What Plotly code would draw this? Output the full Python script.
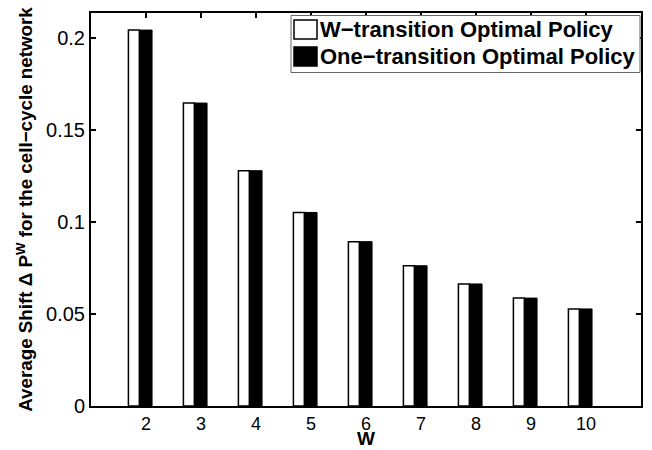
import plotly.graph_objects as go

# Window size W and average shift for both policies
w_values = [2, 3, 4, 5, 6, 7, 8, 9, 10]
w_transition = [0.2045, 0.1648, 0.1280, 0.1053, 0.0894, 0.0763, 0.0664, 0.0587, 0.0528]
one_transition = [0.2045, 0.1648, 0.1280, 0.1053, 0.0894, 0.0763, 0.0664, 0.0587, 0.0528]
y_ticks = [0, 0.05, 0.1, 0.15, 0.2]
y_tick_labels = ["0", "0.05", "0.1", "0.15", "0.2"]
series_names = ["W\u2212transition Optimal Policy", "One\u2212transition Optimal Policy"]
series_fill = ["white", "black"]

FONT = "Liberation Sans, Arial, sans-serif"

fig = go.Figure()
fig.add_trace(go.Bar(
    x=w_values, y=w_transition, name=series_names[0],
    width=0.2, offset=-0.32,
    marker=dict(color=series_fill[0], line=dict(color="black", width=1.5)),
))
fig.add_trace(go.Bar(
    x=w_values, y=one_transition, name=series_names[1],
    width=0.23, offset=-0.12,
    marker=dict(color=series_fill[1], line=dict(color="black", width=1)),
))

# Boxed legend with large swatches, placed in paper coordinates
PLOT_L, PLOT_W, PLOT_B, PLOT_H = 91, 550, 406, 393
def px(x):
    return (x - PLOT_L) / PLOT_W
def py(y):
    return (PLOT_B - y) / PLOT_H

shapes = [dict(type="rect", xref="paper", yref="paper",
               x0=px(291), x1=px(640), y0=py(72.5), y1=py(15.5),
               fillcolor="white", line=dict(color="#666", width=1), layer="above")]
annotations = []
for i, (name, fill) in enumerate(zip(series_names, series_fill)):
    top = 20 + 27 * i
    shapes.append(dict(type="rect", xref="paper", yref="paper",
                       x0=px(294), x1=px(317), y0=py(top + 19), y1=py(top),
                       fillcolor=fill, line=dict(color="black", width=1.5), layer="above"))
    annotations.append(dict(xref="paper", yref="paper", x=px(318), y=py(top + 9.5),
                            xanchor="left", yanchor="middle", showarrow=False,
                            text=name, font=dict(family=FONT, size=22, weight="bold", color="black")))

# x-axis title sits just under the tick labels
annotations.append(dict(xref="paper", yref="paper", x=0.5, y=py(450), xanchor="center",
                        yanchor="bottom", showarrow=False, text="W", borderpad=0,
                        font=dict(family=FONT, size=19, weight="bold", color="black")))

fig.update_layout(
    width=652, height=450,
    margin=dict(l=91, r=11, t=13, b=44, autoexpand=False),
    barmode="overlay", showlegend=False,
    plot_bgcolor="white", paper_bgcolor="white",
    font=dict(family=FONT, color="black", size=20),
    shapes=shapes, annotations=annotations,
    xaxis=dict(
        range=[1, 11], tickvals=w_values, automargin=False,
        showline=True, linecolor="black", linewidth=2, mirror="ticks",
        ticks="inside", ticklen=5, tickwidth=1.5, tickcolor="black",
        showgrid=False, zeroline=False,
        tickfont=dict(size=18),
    ),
    yaxis=dict(
        range=[0, 0.2138], tickvals=y_ticks, ticktext=y_tick_labels, automargin=False,
        showline=True, linecolor="black", linewidth=2, mirror="ticks",
        ticks="inside", ticklen=5, tickwidth=1.5, tickcolor="black",
        showgrid=False, zeroline=False,
        tickfont=dict(size=20),
        title=dict(text="Average Shift \u0394 P<sup>W</sup> for the cell\u2212cycle network",
                   font=dict(size=18.8, weight="bold"), standoff=8),
    ),
)

fig.write_html("out.html")
